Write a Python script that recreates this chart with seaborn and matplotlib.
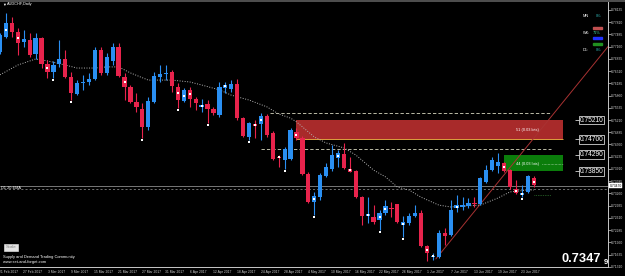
import numpy as np
import pandas as pd
import matplotlib
matplotlib.use("Agg")
import matplotlib.pyplot as plt
import seaborn as sns
from matplotlib.patches import Rectangle
from matplotlib.lines import Line2D

# ---------------- data (AUDCHF daily, 17 Feb 2017 .. 23 Jun 2017) ----------------
opens = [0.7702, 0.7741, 0.7779, 0.7755, 0.7728, 0.7733, 0.7696, 0.7739, 0.7670, 0.7648,
         0.7670, 0.7683, 0.7635, 0.7590, 0.7619, 0.7622, 0.7630, 0.7707, 0.7646, 0.7678,
         0.7715, 0.7635, 0.7609, 0.7569, 0.7550, 0.7502, 0.7569, 0.7635, 0.7643, 0.7648,
         0.7609, 0.7571, 0.7601, 0.7577, 0.7556, 0.7563, 0.7550, 0.7534, 0.7606, 0.7603,
         0.7617, 0.7526, 0.7476, 0.7510, 0.7510, 0.7532, 0.7486, 0.7423, 0.7415, 0.7417,
         0.7489, 0.7473, 0.7378, 0.7303, 0.7316, 0.7372, 0.7391, 0.7420, 0.7431, 0.7391,
         0.7386, 0.7316, 0.7266, 0.7263, 0.7255, 0.7274, 0.7287, 0.7298, 0.7242, 0.7247,
         0.7266, 0.7274, 0.7186, 0.7157, 0.7157, 0.7221, 0.7216, 0.7287, 0.7290, 0.7293,
         0.7301, 0.7298, 0.7356, 0.7388, 0.7399, 0.7407, 0.7388, 0.7338, 0.7322, 0.7330,
         0.7367]
highs = [0.7752, 0.7805, 0.7795, 0.7765, 0.7760, 0.7752, 0.7752, 0.7741, 0.7680, 0.7678,
         0.7733, 0.7707, 0.7648, 0.7627, 0.7641, 0.7646, 0.7715, 0.7715, 0.7699, 0.7725,
         0.7725, 0.7646, 0.7614, 0.7593, 0.7566, 0.7582, 0.7648, 0.7667, 0.7667, 0.7654,
         0.7619, 0.7606, 0.7609, 0.7582, 0.7577, 0.7574, 0.7556, 0.7622, 0.7622, 0.7627,
         0.7630, 0.7529, 0.7516, 0.7521, 0.7540, 0.7537, 0.7492, 0.7428, 0.7449, 0.7500,
         0.7500, 0.7478, 0.7383, 0.7330, 0.7380, 0.7407, 0.7455, 0.7441, 0.7460, 0.7423,
         0.7388, 0.7319, 0.7316, 0.7295, 0.7282, 0.7309, 0.7303, 0.7298, 0.7266, 0.7274,
         0.7295, 0.7282, 0.7189, 0.7168, 0.7229, 0.7234, 0.7309, 0.7322, 0.7316, 0.7314,
         0.7316, 0.7370, 0.7401, 0.7423, 0.7433, 0.7409, 0.7391, 0.7362, 0.7348, 0.7375,
         0.7372]
lows = [0.7696, 0.7739, 0.7741, 0.7694, 0.7715, 0.7688, 0.7683, 0.7659, 0.7633, 0.7633,
        0.7662, 0.7633, 0.7574, 0.7587, 0.7601, 0.7614, 0.7627, 0.7641, 0.7641, 0.7667,
        0.7635, 0.7574, 0.7566, 0.7542, 0.7473, 0.7494, 0.7566, 0.7622, 0.7627, 0.7595,
        0.7553, 0.7569, 0.7556, 0.7548, 0.7542, 0.7513, 0.7534, 0.7529, 0.7593, 0.7595,
        0.7521, 0.7476, 0.7468, 0.7473, 0.7468, 0.7476, 0.7415, 0.7396, 0.7391, 0.7415,
        0.7468, 0.7375, 0.7301, 0.7269, 0.7309, 0.7370, 0.7386, 0.7396, 0.7391, 0.7383,
        0.7314, 0.7242, 0.7247, 0.7245, 0.7229, 0.7269, 0.7263, 0.7247, 0.7210, 0.7242,
        0.7263, 0.7184, 0.7146, 0.7149, 0.7154, 0.7189, 0.7213, 0.7277, 0.7282, 0.7287,
        0.7290, 0.7295, 0.7354, 0.7386, 0.7380, 0.7383, 0.7338, 0.7324, 0.7316, 0.7327,
        0.7343]
closes = [0.7747, 0.7779, 0.7755, 0.7725, 0.7736, 0.7694, 0.7739, 0.7670, 0.7648, 0.7667,
          0.7683, 0.7635, 0.7593, 0.7619, 0.7622, 0.7630, 0.7707, 0.7646, 0.7688, 0.7715,
          0.7638, 0.7609, 0.7569, 0.7556, 0.7502, 0.7571, 0.7638, 0.7643, 0.7646, 0.7611,
          0.7574, 0.7601, 0.7577, 0.7566, 0.7561, 0.7550, 0.7540, 0.7609, 0.7614, 0.7617,
          0.7526, 0.7478, 0.7513, 0.7505, 0.7532, 0.7481, 0.7417, 0.7420, 0.7444, 0.7494,
          0.7473, 0.7378, 0.7303, 0.7319, 0.7375, 0.7396, 0.7428, 0.7433, 0.7393, 0.7383,
          0.7316, 0.7266, 0.7271, 0.7250, 0.7274, 0.7293, 0.7285, 0.7250, 0.7250, 0.7266,
          0.7274, 0.7186, 0.7168, 0.7160, 0.7221, 0.7213, 0.7282, 0.7295, 0.7295, 0.7301,
          0.7298, 0.7367, 0.7388, 0.7415, 0.7409, 0.7386, 0.7343, 0.7327, 0.7327, 0.7372,
          0.7348]

ema_bars = [0, 3, 6, 8, 11, 13, 16, 18, 20, 22, 25, 27, 29, 32, 34, 37, 39, 42, 45, 47,
            49, 50, 53, 55, 58, 60, 63, 65, 67, 69, 71, 74, 76, 81, 84, 86, 89, 90]
ema_vals = [0.7641, 0.7667, 0.7683, 0.7678, 0.7667, 0.7659, 0.7659, 0.7662, 0.7662, 0.7646,
            0.7627, 0.7627, 0.7627, 0.7622, 0.7614, 0.7601, 0.7587, 0.7574, 0.7556, 0.7537,
            0.7526, 0.7516, 0.7476, 0.7460, 0.7447, 0.7428, 0.7388, 0.7370, 0.7343, 0.7335,
            0.7316, 0.7295, 0.7290, 0.7295, 0.7314, 0.7330, 0.7335, 0.7335]

date_labels = ["21 Feb 2017", "27 Feb 2017", "3 Mar 2017", "9 Mar 2017", "15 Mar 2017",
               "21 Mar 2017", "27 Mar 2017", "31 Mar 2017", "6 Apr 2017", "12 Apr 2017",
               "18 Apr 2017", "24 Apr 2017", "28 Apr 2017", "4 May 2017", "10 May 2017",
               "16 May 2017", "22 May 2017", "26 May 2017", "1 Jun 2017", "7 Jun 2017",
               "13 Jun 2017", "19 Jun 2017", "23 Jun 2017"]
date_bars = [2, 6, 10, 14, 18, 22, 26, 30, 34, 38, 42, 46, 50, 54, 58, 62, 66, 70, 74, 78,
             82, 86, 90]

price_ticks = [0.71310, 0.71635, 0.71960, 0.72285, 0.72610, 0.72935, 0.73260, 0.73585,
               0.73910, 0.74235, 0.74560, 0.74885, 0.75210, 0.75535, 0.75860, 0.76185,
               0.76510, 0.76835, 0.77160, 0.77485, 0.77810, 0.78135]

# supply / demand zones  (low, high, first bar, last bar)
supply_zone = [0.7470, 0.7521, 49.9, 94.9]
demand_zone = [0.7385, 0.7429, 85.0, 94.9]
zone_labels = ["51 (0.03 lots)", "44 (0.03 lots)"]
level_labels = [0.75210, 0.74700, 0.74290, 0.73850]
dashed_levels = [0.7540, 0.7444]
dashed_start = [45.5, 44.0]
dashed_end = 93.0
bid_price = 0.7347
ema_level = 0.7338
trend_bars = [73.5, 103.0]
trend_prices = [0.7152, 0.7725]
fractal_bars = [9, 12, 24, 30, 35, 42, 48, 53, 64, 68, 88]
mid_bars = [1, 3, 8, 21, 30, 31, 32, 34, 38, 43, 44, 47, 50, 53, 57, 59, 62, 64, 65, 68,
            72, 73, 77, 85, 87, 88, 90]

# ---------------- style ----------------
sns.set_theme(style="dark", rc={
    "axes.facecolor": "black", "figure.facecolor": "black",
    "axes.edgecolor": "#c8c8c8", "axes.grid": False,
    "xtick.color": "#c8c8c8", "ytick.color": "#c8c8c8",
    "text.color": "white", "axes.linewidth": 0.7})
plt.rcParams["font.family"] = ["Liberation Sans", "DejaVu Sans"]

W, H = 625, 276
fig = plt.figure(figsize=(W / 100, H / 100), dpi=100)
ax = fig.add_axes([0, 9 / H, 608 / W, 265 / H])
ax.set_xlim(0, 102.53)
ax.set_ylim(0.71306, 0.78344)


def fp(x, y):
    return x / W, 1 - y / H


df = pd.DataFrame({"bar": np.arange(len(opens)), "open": opens, "high": highs,
                   "low": lows, "close": closes})
df["bull"] = df["close"] >= df["open"]
BLUE, RED = "#2a8ff2", "#e8234c"
cols = np.where(df["bull"], BLUE, RED)

# zones
ax.add_patch(Rectangle((supply_zone[2], supply_zone[0]), supply_zone[3] - supply_zone[2],
                       supply_zone[1] - supply_zone[0], facecolor="#a82a2a", edgecolor="none", zorder=1))
ax.hlines(supply_zone[0], supply_zone[2], supply_zone[3], color="#e0a040", lw=0.7, zorder=1.1)
ax.add_patch(Rectangle((demand_zone[2], demand_zone[0]), demand_zone[3] - demand_zone[2],
                       demand_zone[1] - demand_zone[0], facecolor="#0b7d0b", edgecolor="none", zorder=1))

# horizontal levels
for lv, st in zip(dashed_levels, dashed_start):
    ax.hlines(lv, st, dashed_end, color="#d8d8c0", lw=0.6, linestyles=(0, (4, 2.5)), zorder=1.2)
ax.axhline(bid_price, color="#8a8a8a", lw=0.6, zorder=1.2)
ax.axhline(ema_level, color="#9a9a9a", lw=0.5, linestyle=(0, (3, 3)), zorder=1.2)

# trendline
ax.plot(trend_bars, trend_prices, color="#a83232", lw=0.7, zorder=1.3)

# EMA 20
sns.lineplot(x=ema_bars, y=ema_vals, ax=ax, color="#b4b4b4", lw=0.7,
             linestyle=(0, (1, 1.6)), zorder=1.5)

# candles
ax.vlines(df["bar"], df["low"], df["high"], colors=cols, lw=0.8, zorder=2)
body_h = np.maximum((df["close"] - df["open"]).abs(), 0.00018)
ax.bar(df["bar"], body_h, bottom=np.minimum(df["open"], df["close"]), width=0.72,
       color=cols, linewidth=0, zorder=3)

# markers
frac = df.loc[fractal_bars]
sns.scatterplot(x=frac["bar"], y=frac["low"] - 0.0006, ax=ax, color="white", marker="s",
                s=2.5, linewidth=0, zorder=4)
mid = df.loc[mid_bars]
sns.scatterplot(x=mid["bar"], y=(mid["open"] + mid["close"]) / 2, ax=ax, color="white",
                marker="s", s=1.6, linewidth=0, zorder=4)
ax.set_xlabel("")
ax.set_ylabel("")

# zone texts
ax.text(88.9, (supply_zone[0] + supply_zone[1]) / 2 - 0.0002, zone_labels[0], color="white",
        fontsize=2.8, ha="center", va="center", zorder=5)
ax.text(88.9, (demand_zone[0] + demand_zone[1]) / 2 - 0.0003, zone_labels[1], color="white",
        fontsize=2.8, ha="center", va="center", zorder=5)
ax.hlines((demand_zone[0] + demand_zone[1]) / 2 - 0.0003, 91.4, 94.9, color="white",
          lw=0.4, linestyles=(0, (1, 1.5)), zorder=5)
ax.hlines(0.7322, 90.0, 93.0, color="#40a040", lw=0.5, linestyles=(0, (1, 1.5)), zorder=5)

# price level labels (boxed)
for lv in level_labels:
    ax.text(97.75, lv, f"{lv:.5f}", color="white", fontsize=4.8, ha="left", va="center",
            bbox=dict(boxstyle="square,pad=0.12", fc="black", ec="white", lw=0.5), zorder=6)
    ax.hlines(lv, 97.0, 97.6, color="white", lw=0.5, zorder=6)

# axes
ax.yaxis.tick_right()
ax.set_yticks(price_ticks)
ax.set_yticklabels([f"{t:.5f}" for t in price_ticks], fontsize=2.4, color="#d0d0d0")
ax.tick_params(axis="y", length=1.8, width=0.5, pad=0.6, direction="out")
ax.set_xticks([b - 0.5 for b in date_bars])
ax.set_xticklabels(date_labels, fontsize=2.4, color="#d0d0d0")
ax.tick_params(axis="x", length=1.5, width=0.5, pad=1.0, direction="out")
for s in ["top", "left"]:
    ax.spines[s].set_visible(False)
ax.spines["right"].set_color("#c8c8c8")
ax.spines["bottom"].set_color("#c8c8c8")

# current bid label on the price axis
ax.text(1.003, bid_price, f"{bid_price:.5f}", transform=ax.get_yaxis_transform(),
        fontsize=2.4, color="black", ha="left", va="center",
        bbox=dict(boxstyle="square,pad=0.12", fc="white", ec="white", lw=0.3), clip_on=False)

# figure texts
fig.add_artist(Line2D([0, 1], [1 - 0.8 / H] * 2, color="#505050", lw=1.4,
                      transform=fig.transFigure))
fig.text(*fp(2, 4.5), "\u25bc", fontsize=2.8, color="white", va="center", ha="left")
fig.text(*fp(7, 4.5), "AUDCHF,Daily", fontsize=2.8, color="white", va="center", ha="left")
fig.text(*fp(1, 188), "D1 20 EMA", fontsize=2.8, color="white", va="center", ha="left")
fig.text(*fp(6, 247.5), "Scale", fontsize=3.2, color="#808080", va="center", ha="left",
         bbox=dict(boxstyle="square,pad=0.35", fc="#e4e4e4", ec="#f0f0f0", lw=0.4))
fig.text(*fp(3, 257), "Supply and Demand Trading Community", fontsize=2.9, color="white",
         va="center", ha="left")
fig.text(*fp(3, 262), "www.set-and-forget.com", fontsize=2.9, color="white",
         va="center", ha="left")
fig.text(*fp(562, 259.5), f"{bid_price:.4f}", fontsize=9.3, fontweight="bold", color="white",
         va="center", ha="left")
fig.text(*fp(604, 262.5), "9", fontsize=5.5, fontweight="bold", color="white",
         va="center", ha="left")

# top-right strength panel
fig.text(*fp(583, 16), "MN", fontsize=2.8, color="white", va="center")
fig.text(*fp(596, 16), "0%", fontsize=2.8, color="#30b0b0", va="center")
fig.text(*fp(583, 33.5), "WK:", fontsize=2.8, color="white", va="center")
fig.text(*fp(593, 33.5), "71%", fontsize=2.8, color="#40d0a0", va="center")
fig.text(*fp(583, 50), "D1:", fontsize=2.8, color="white", va="center")
fig.text(*fp(596, 50), "0%", fontsize=2.8, color="#30b0b0", va="center")
for y0, c in [(27, "#c05050"), (36.5, "#2030ff"), (43, "#209020")]:
    fig.add_artist(Rectangle(fp(593, y0 + 2.2), 9 / W, 2.2 / H, color=c,
                             transform=fig.transFigure))

fig.savefig("out.png", dpi=100, facecolor="black")
